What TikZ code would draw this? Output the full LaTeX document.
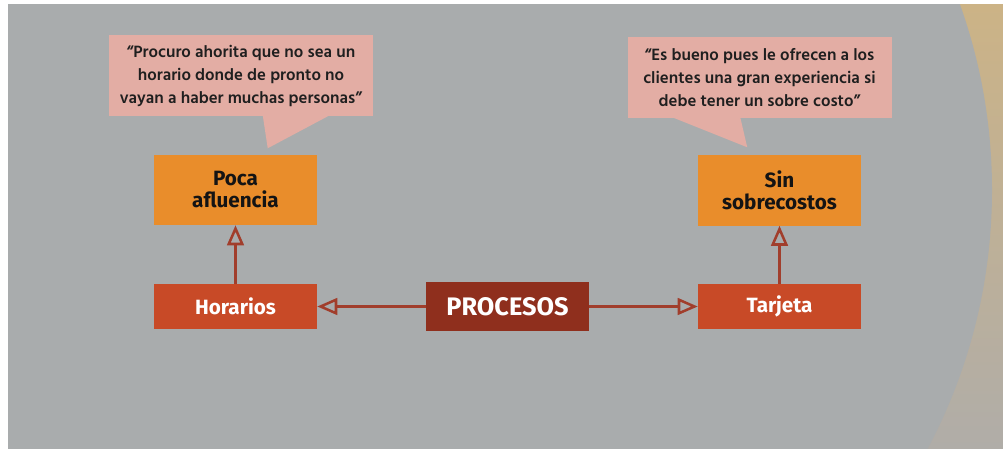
\documentclass[tikz,border=0pt]{standalone}
\usepackage{fontspec}
\setmainfont{Fira Sans}
\newfontfamily\quotefont{Hind Madurai}[UprightFont=* SemiBold]
\usetikzlibrary{arrows.meta,calc}
\definecolor{bggray}{HTML}{A9ACAD}
\definecolor{bgtan}{HTML}{CCB386}
\definecolor{bgfade}{HTML}{B0ADA8}
\definecolor{quotepink}{HTML}{E3ADA4}
\definecolor{boxorange}{HTML}{E98D2B}
\definecolor{boxred}{HTML}{C84A27}
\definecolor{boxdark}{HTML}{8F2F1D}
\definecolor{arrowred}{HTML}{A13E2C}
\begin{document}
\begin{tikzpicture}[x=0.75pt,y=-0.75pt,
	quote/.style={fill=quotepink,text=black!88,font=\quotefont\fontsize{12.6}{17.25}\selectfont,align=center,inner sep=0pt,minimum width=198pt,minimum height=60.75pt},
	result/.style={fill=boxorange,text=black!92,font=\bfseries\fontsize{15.5}{16.5}\selectfont,align=center,inner sep=0pt,minimum width=122.25pt,minimum height=52.5pt},
	topic/.style={fill=boxred,text=white,font=\bfseries\fontsize{15.5}{16}\selectfont,inner sep=0pt,minimum width=122.25pt,minimum height=33.75pt},
	arr/.style={draw=arrowred,line width=1.9pt,-{Triangle[open,length=15pt,width=12.5pt]}}]
	\useasboundingbox (0,0) rectangle (1003,449);
	% background
	\shade[top color=bgtan,bottom color=bgfade] (8,5) rectangle (1003,449);
	\begin{scope}
		\clip (8,5) rectangle (1003,449);
		\fill[bggray] (441,190) circle (551*0.75pt);
	\end{scope}
	% nodes
	\node[quote] (q1) at (241,75.5) {“Procuro ahorita que no sea un\\horario donde de pronto no\\vayan a haber muchas personas”};
	\node[quote] (q2) at (759.5,77.5) {“Es bueno pues le ofrecen a los\\clientes una gran experiencia si\\debe tener un sobre costo”};
	\node[result] (poca) at (235.5,190) {Poca\\afluencia};
	\node[result] (sin) at (779.5,190.5) {Sin\\sobrecostos};
	\node[topic] (hor) at (235.5,306.5) {Horarios};
	\node[topic] (tar) at (779.5,306.5) {Tarjeta};
	\node[topic,fill=boxdark,minimum height=36.75pt,font=\bfseries\fontsize{19}{22}\selectfont] (proc) at (507.5,306.5) {PROCESOS};
	% callout tails
	\fill[quotepink] ($(q1.south west)+(154,-1)$) -- ($(q1.south west)+(221,-1)$) -- ($(q1.south west)+(159,32)$) -- cycle;
	\fill[quotepink] ($(q2.south west)+(45,-1)$) -- ($(q2.south west)+(113,-1)$) -- ($(q2.south west)+(120,29)$) -- cycle;
	% arrows
	\draw[arr] (proc) -- (hor);
	\draw[arr] (proc) -- (tar);
	\draw[arr] (hor) -- (poca);
	\draw[arr] (tar) -- (sin);
\end{tikzpicture}
\end{document}
